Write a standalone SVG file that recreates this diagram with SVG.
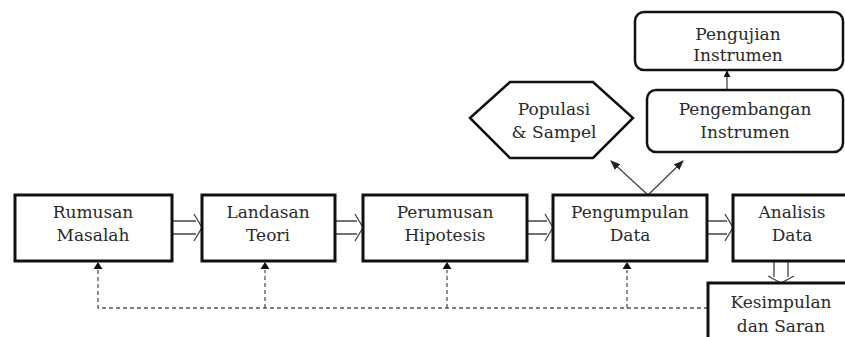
<svg xmlns="http://www.w3.org/2000/svg" width="845" height="337" viewBox="0 0 845 337">
<style>
.box{fill:#fff;stroke:#111;stroke-width:3}
.rbox{fill:#fff;stroke:#111;stroke-width:2.5}
.t{font-family:"DejaVu Serif","Liberation Serif",serif;font-size:17px;fill:#2a2a2a;text-anchor:middle}
.blk{fill:none;stroke:#444;stroke-width:1.3}
.dash{fill:none;stroke:#555;stroke-width:1.3;stroke-dasharray:4 3}
.thin{fill:none;stroke:#444;stroke-width:1.3}
</style>
<defs>
<marker id="tri" viewBox="0 0 10 10" refX="9" refY="5" markerWidth="7" markerHeight="7" orient="auto" markerUnits="userSpaceOnUse">
<path d="M0,0 L10,5 L0,10 z" fill="#111"/>
</marker>
<marker id="tri2" viewBox="0 0 10 10" refX="9" refY="5" markerWidth="10" markerHeight="10" orient="auto" markerUnits="userSpaceOnUse">
<path d="M0,1 L10,5 L0,9 z" fill="#222"/>
</marker>
</defs>
<rect width="845" height="337" fill="#fff"/>
<g id="connectors">
<path class="blk" d="M172,221 H196 M172,234 H196 M194,214 L202,227.5 L194,241"/>
<path class="blk" d="M335,221 H357 M335,234 H357 M355,214 L363,227.5 L355,241"/>
<path class="blk" d="M527,221 H547 M527,234 H547 M545,214 L553,227.5 L545,241"/>
<path class="blk" d="M707,221 H727 M707,234 H727 M725,214 L733,227.5 L725,241"/>
<path class="blk" d="M774,261 V277 M788,261 V277 M768,276 L781,283 L794,276"/>
<path class="dash" d="M708,308 H98 V270 M265,308 V270 M447,308 V270 M627,308 V270"/>
<path d="M98,262 L93.5,269 L102.5,269 z M265,262 L260.5,269 L269.5,269 z M447,262 L442.5,269 L451.5,269 z M627,262 L622.5,269 L631.5,269 z" fill="#111"/>
<path class="thin" d="M648,195 L611,161" marker-end="url(#tri2)"/>
<path class="thin" d="M648,195 L683,161" marker-end="url(#tri2)"/>
<path class="thin" d="M727,90 L727,71" marker-end="url(#tri)"/>
</g>
<g id="rumusan"><rect class="box" x="15" y="195" width="157" height="66"/><text class="t" x="93" y="218">Rumusan</text><text class="t" x="93" y="241">Masalah</text></g>
<g id="landasan"><rect class="box" x="202" y="195" width="133" height="66"/><text class="t" x="268" y="218">Landasan</text><text class="t" x="268" y="241">Teori</text></g>
<g id="perumusan"><rect class="box" x="363" y="195" width="164" height="66"/><text class="t" x="445" y="218">Perumusan</text><text class="t" x="445" y="241">Hipotesis</text></g>
<g id="pengumpulan"><rect class="box" x="553" y="195" width="154" height="66"/><text class="t" x="630" y="218">Pengumpulan</text><text class="t" x="630" y="241">Data</text></g>
<g id="analisis"><rect class="box" x="733" y="195" width="120" height="66"/><text class="t" x="792" y="218">Analisis</text><text class="t" x="792" y="241">Data</text></g>
<g id="kesimpulan"><rect class="box" x="708" y="283" width="145" height="70"/><text class="t" x="781" y="308">Kesimpulan</text><text class="t" x="781" y="332">dan Saran</text></g>
<g id="populasi"><polygon class="rbox" points="470,118 510,82 593,82 633,118 593,158 510,158"/><text class="t" x="554" y="115">Populasi</text><text class="t" x="554" y="138">&amp; Sampel</text></g>
<g id="pengembangan"><rect class="rbox" x="647" y="90" width="196" height="62" rx="9"/><text class="t" x="745" y="115">Pengembangan</text><text class="t" x="745" y="138">Instrumen</text></g>
<g id="pengujian"><rect class="rbox" x="635" y="12" width="208" height="58" rx="9"/><text class="t" x="738" y="40">Pengujian</text><text class="t" x="738" y="61">Instrumen</text></g>
</svg>
